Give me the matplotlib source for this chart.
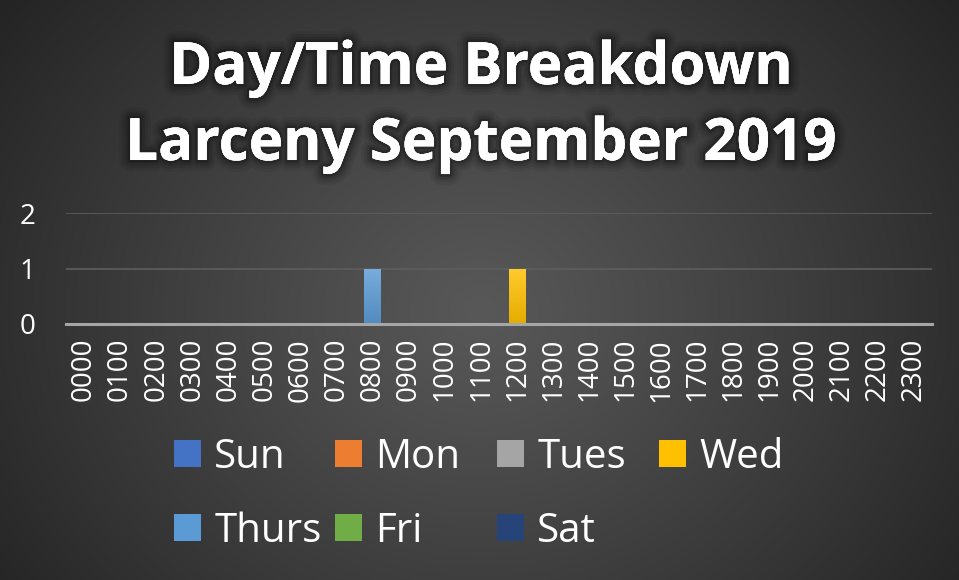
import numpy as np
import matplotlib
matplotlib.use("Agg")
import matplotlib.pyplot as plt
import matplotlib.patheffects as pe
import matplotlib.colors as mcolors
from matplotlib.patches import Patch

hours = ["0000", "0100", "0200", "0300", "0400", "0500", "0600", "0700",
         "0800", "0900", "1000", "1100", "1200", "1300", "1400", "1500",
         "1600", "1700", "1800", "1900", "2000", "2100", "2200", "2300"]
days = ["Sun", "Mon", "Tues", "Wed", "Thurs", "Fri", "Sat"]
sun   = [0]*24
mon   = [0]*24
tues  = [0]*24
wed   = [0,0,0,0,0,0,0,0,0,0,0,0,1,0,0,0,0,0,0,0,0,0,0,0]
thurs = [0,0,0,0,0,0,0,0,1,0,0,0,0,0,0,0,0,0,0,0,0,0,0,0]
fri   = [0]*24
sat   = [0]*24
series = [sun, mon, tues, wed, thurs, fri, sat]
colors = ["#4472C4", "#ED7D31", "#A5A5A5", "#FFC000", "#5B9BD5", "#70AD47", "#264478"]
title_lines = ["Day/Time Breakdown", "Larceny September 2019"]
yticks = [0, 1, 2]

W, H = 959, 580
fig = plt.figure(figsize=(W/100, H/100), dpi=100)

# background radial gradient
bg = fig.add_axes([0, 0, 1, 1], zorder=-10)
yy, xx = np.mgrid[0:H, 0:W]
cx, cy = 480, 310
r = np.sqrt((xx-cx)**2 + ((yy-cy)*1.15)**2)
r = r / r.max()
val = 0.345 - (0.345-0.14)*np.clip(r, 0, 1)**1.1
img = np.dstack([val, val, val])
bg.imshow(img, extent=[0, W, H, 0], aspect='auto', interpolation='bilinear')
bg.set_xlim(0, W); bg.set_ylim(H, 0)
bg.axis('off')

font = "Open Sans"

def grad_img(c):
    rgb = np.array(mcolors.to_rgb(c))
    top = rgb + (1 - rgb) * 0.18
    bot = rgb * 0.9
    t = np.linspace(0, 1, 64)[:, None]
    g = top[None, :] * (1 - t) + bot[None, :] * t
    return g[:, None, :]

L, R, B, T = 66, 932, 324, 213
ax = fig.add_axes([L/W, 1-B/H, (R-L)/W, (B-T)/H])
ax.set_facecolor('none')
x = np.arange(len(hours))
bottom = np.zeros(len(hours))
for name, vals, c in zip(days, series, colors):
    v = np.array(vals, dtype=float)
    bars = ax.bar(x, v, width=0.46, bottom=bottom, color=c, label=name, zorder=3)
    for p in bars:
        if p.get_height() > 0:
            x0, y0 = p.get_x(), p.get_y()
            im = ax.imshow(grad_img(c), extent=[x0, x0 + p.get_width(), y0, y0 + p.get_height()],
                           origin='upper', aspect='auto', zorder=3.5, interpolation='bilinear')
            im.set_clip_path(p)
    bottom += v
ax.set_xlim(-0.5, len(hours)-0.5)
ax.set_ylim(0, 2)
ax.set_aspect('auto')
ax.set_yticks(yticks)
ax.set_yticklabels([str(t) for t in yticks], fontsize=20, color='white', family=font)
ax.set_xticks(x)
ax.set_xticklabels(hours, rotation=90, fontsize=20, color='white', family=font)
ax.tick_params(axis='both', length=0)
ax.tick_params(axis='y', pad=22)
ax.tick_params(axis='x', pad=10)
for s in ['top', 'right', 'left']:
    ax.spines[s].set_visible(False)
ax.spines['bottom'].set_color('#a6a6a6')
ax.spines['bottom'].set_linewidth(2.2)
ax.spines['bottom'].set_zorder(4)
ax.grid(axis='y', color='#5e5e5e', linewidth=1.2, zorder=0)
ax.set_axisbelow(True)

# title with soft glow
shadow = [pe.withStroke(linewidth=16, foreground='black', alpha=0.06),
          pe.withStroke(linewidth=12, foreground='black', alpha=0.08),
          pe.withStroke(linewidth=8, foreground='black', alpha=0.12),
          pe.withStroke(linewidth=4, foreground='black', alpha=0.2),
          pe.Normal()]
fig.text(481/W, 1-84/H, title_lines[0], ha='center', va='baseline', fontsize=42,
         fontweight='bold', color='white', family=font, path_effects=shadow)
fig.text(481/W, 1-160/H, title_lines[1], ha='center', va='baseline', fontsize=42,
         fontweight='bold', color='white', family=font, path_effects=shadow)

# legend entries
col_x = [174, 335, 497, 659]
row_y = [457.5, 531.5]
for i, (name, c) in enumerate(zip(days, colors)):
    row, col = divmod(i, 4)
    h = Patch(facecolor=c, edgecolor='none')
    lg = fig.legend([h], [name], loc='center left',
                    bbox_to_anchor=(col_x[col]/W, 1-row_y[row]/H),
                    frameon=False, borderpad=0, borderaxespad=0,
                    handlelength=0.68, handleheight=0.68, handletextpad=0.32,
                    prop={'family': font, 'size': 29})
    for t in lg.get_texts():
        t.set_color('white')

fig.savefig("out.png", dpi=100)
